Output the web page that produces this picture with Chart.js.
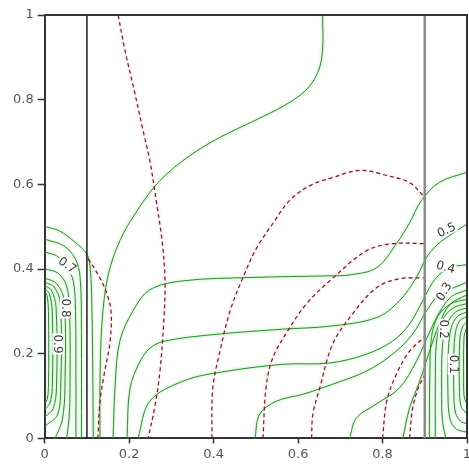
<!DOCTYPE html>
<html>
<head>
<meta charset="utf-8">
<script src="https://cdn.jsdelivr.net/npm/chart.js@4.4.1/dist/chart.umd.min.js"></script>
<style>
  html, body { margin: 0; padding: 0; background: #fff; }
  #wrap { width: 469px; height: 466px; }
</style>
</head>
<body>
<div id="wrap"><canvas id="c" width="469" height="466"></canvas></div>
<script>
// ── axes ─────────────────────────────────────────
const xTicks = [0, 0.2, 0.4, 0.6, 0.8, 1];
const yTicks = [0, 0.2, 0.4, 0.6, 0.8, 1];

// partition walls
const wallLeft = 0.1;
const wallRight = 0.9;

// ── isotherms (solid green) ───────────────────────
const isoTop = [[0.658,1],[0.658,0.917],[0.647,0.865],[0.618,0.822],[0.569,0.787],[0.498,0.751],[0.415,0.711],[0.344,0.668],[0.273,0.609],[0.219,0.538],[0.178,0.467],[0.150,0.384],[0.136,0.277],[0.131,0.135],[0.131,0]];
const iso06 = [[0.162,0],[0.167,0.128],[0.178,0.230],[0.209,0.301],[0.249,0.351],[0.327,0.372],[0.486,0.380],[0.675,0.384],[0.722,0.386],[0.786,0.403],[0.833,0.460],[0.864,0.509],[0.892,0.562],[0.935,0.605],[0.998,0.628]];
const iso05 = [[0.195,0],[0.202,0.118],[0.226,0.182],[0.249,0.213],[0.285,0.230],[0.408,0.246],[0.564,0.258],[0.675,0.265],[0.785,0.285],[0.840,0.325],[0.880,0.380],[0.904,0.427],[0.930,0.458],[0.960,0.480],[0.998,0.505]];
const iso04 = [[0.221,0],[0.249,0.088],[0.327,0.135],[0.408,0.155],[0.564,0.175],[0.675,0.178],[0.762,0.199],[0.824,0.230],[0.864,0.270],[0.895,0.325],[0.918,0.367],[0.940,0.392],[0.965,0.405],[0.998,0.410]];
const iso03 = [[0.498,0],[0.509,0.057],[0.549,0.088],[0.611,0.104],[0.682,0.128],[0.762,0.159],[0.824,0.199],[0.871,0.246],[0.904,0.301],[0.935,0.341],[0.974,0.358],[0.998,0.368]];
const iso02 = [[0.722,0],[0.738,0.048],[0.785,0.081],[0.840,0.119],[0.880,0.182],[0.911,0.250],[0.935,0.298],[0.963,0.335],[0.998,0.350]];
const iso01 = [[0.848,0],[0.864,0.072],[0.888,0.135],[0.911,0.205],[0.935,0.272],[0.959,0.316],[0.998,0.338]];

// cold wall (right)
const coldA = [[0.998,0.328],[0.962,0.318],[0.932,0.290],[0.916,0.240],[0.912,0.150],[0.911,0.060],[0.911,0]];
const coldB = [[0.998,0.318],[0.967,0.308],[0.942,0.280],[0.928,0.230],[0.925,0.120],[0.925,0]];
const coldC = [[0.998,0.308],[0.972,0.298],[0.953,0.270],[0.942,0.220],[0.940,0.110],[0.942,0.040],[0.950,0]];
const coldD = [[0.998,0.298],[0.977,0.288],[0.963,0.262],[0.956,0.210],[0.955,0.100],[0.960,0.045],[0.975,0.022],[0.998,0.015]];
const coldE = [[0.998,0.287],[0.983,0.278],[0.973,0.252],[0.969,0.200],[0.969,0.100],[0.973,0.060],[0.985,0.040],[0.998,0.035]];
const coldF = [[0.998,0.274],[0.990,0.265],[0.983,0.235],[0.982,0.120],[0.986,0.075],[0.998,0.060]];
const coldG = [[0.998,0.258],[0.993,0.240],[0.992,0.140],[0.993,0.100],[0.998,0.085]];

// hot wall (left)
const hotA = [[0.002,0.345],[0.006,0.336],[0.009,0.300],[0.009,0.120],[0.006,0.092],[0.002,0.085]];
const hotB = [[0.002,0.352],[0.011,0.342],[0.018,0.300],[0.018,0.120],[0.012,0.082],[0.002,0.070]];
const hotC = [[0.002,0.360],[0.016,0.350],[0.027,0.310],[0.028,0.120],[0.020,0.070],[0.002,0.052]];
const hotD = [[0.002,0.368],[0.022,0.358],[0.037,0.320],[0.038,0.120],[0.030,0.055],[0.002,0.030]];
const hotE = [[0.002,0.378],[0.028,0.366],[0.046,0.325],[0.048,0.120],[0.042,0.045],[0.030,0.012],[0.024,0]];
const hotF = [[0.002,0.400],[0.032,0.390],[0.052,0.360],[0.059,0.300],[0.060,0.120],[0.058,0.050],[0.052,0]];
const hotG = [[0.002,0.440],[0.030,0.430],[0.053,0.405],[0.068,0.370],[0.073,0.300],[0.074,0.150],[0.074,0]];
const hotH = [[0.002,0.470],[0.045,0.455],[0.072,0.425],[0.084,0.380],[0.087,0.250],[0.087,0]];
const hotI = [[0.002,0.500],[0.035,0.490],[0.070,0.465],[0.100,0.435],[0.108,0.400],[0.112,0.300],[0.114,0.150],[0.115,0]];

// ── streamlines (dashed red) ──────────────────────
const streamA = [[0.174,1],[0.190,0.917],[0.212,0.822],[0.233,0.727],[0.249,0.656],[0.264,0.562],[0.278,0.467],[0.285,0.372],[0.282,0.277],[0.273,0.159],[0.261,0.076],[0.245,0]];
const streamB = [[0.103,0.424],[0.124,0.391],[0.145,0.348],[0.157,0.301],[0.155,0.230],[0.141,0.152],[0.131,0.088],[0.126,0]];
const streamC = [[0.396,0],[0.398,0.118],[0.415,0.206],[0.439,0.301],[0.469,0.379],[0.502,0.450],[0.540,0.507],[0.580,0.562],[0.628,0.597],[0.682,0.616],[0.746,0.633],[0.810,0.621],[0.864,0.604],[0.900,0.569]];
const streamD = [[0.517,0],[0.524,0.118],[0.540,0.190],[0.580,0.261],[0.620,0.318],[0.675,0.372],[0.762,0.443],[0.824,0.460],[0.900,0.460]];
const streamE = [[0.632,0],[0.635,0.057],[0.651,0.118],[0.682,0.223],[0.729,0.294],[0.786,0.356],[0.840,0.377],[0.900,0.379]];
const streamF = [[0.800,0],[0.810,0.088],[0.833,0.152],[0.864,0.206],[0.900,0.240]];
const streamG = [[0.864,0],[0.871,0.070],[0.885,0.120],[0.900,0.150]];

// contour labels
const labelText = ['0.7', '0.8', '0.9', '0.5', '0.4', '0.3', '0.2', '0.1'];
const labelX    = [0.053, 0.048, 0.030, 0.952, 0.949, 0.947, 0.944, 0.966];
const labelY    = [0.408, 0.308, 0.223, 0.491, 0.403, 0.346, 0.258, 0.175];
const labelRot  = [35, 90, 90, -25, 15, -60, 90, 90];

const isoLines = [isoTop, iso06, iso05, iso04, iso03, iso02, iso01,
                  coldA, coldB, coldC, coldD, coldE, coldF, coldG,
                  hotA, hotB, hotC, hotD, hotE, hotF, hotG, hotH, hotI];
const streamLines = [streamA, streamB, streamC, streamD, streamE, streamF, streamG];

const pts = a => a.map(([x, y]) => ({ x, y }));
const fmtTick = v => String(Math.round(v * 10) / 10);

const datasets = [
    { data: pts([[wallLeft, 0], [wallLeft, 1]]),  borderColor: '#1c1c1c', borderWidth: 1.5 },
    { data: pts([[wallRight, 0], [wallRight, 1]]), borderColor: '#8a8a8a', borderWidth: 2.5 },
];
streamLines.forEach(s => datasets.push({
    data: pts(s), borderColor: '#7a1828', borderWidth: 1.2, borderDash: [4, 3],
    tension: 0.35, glow: 'rgba(255,130,150,0.6)',
}));
isoLines.forEach(s => datasets.push({
    data: pts(s), borderColor: '#2d8a2d', borderWidth: 1,
    tension: 0.35, glow: 'rgba(90,220,90,0.8)',
}));
datasets.forEach(d => { d.showLine = true; d.pointRadius = 0; d.fill = false; });

// glow under each curve, contour labels and the closing frame
const contourDecor = {
    id: 'contourDecor',
    beforeDatasetDraw(chart, args) {
        const ds = chart.data.datasets[args.index];
        chart.ctx.save();
        if (ds.glow) { chart.ctx.shadowColor = ds.glow; chart.ctx.shadowBlur = 3; }
    },
    afterDatasetDraw(chart) { chart.ctx.restore(); },
    afterDatasetsDraw(chart) {
        const { ctx, chartArea: a, scales: { x, y } } = chart;
        ctx.save();
        ctx.font = '12px "DejaVu Sans"';
        ctx.textAlign = 'center';
        ctx.textBaseline = 'middle';
        labelText.forEach((t, i) => {
            ctx.save();
            ctx.translate(x.getPixelForValue(labelX[i]), y.getPixelForValue(labelY[i]));
            ctx.rotate(labelRot[i] * Math.PI / 180);
            const w = ctx.measureText(t).width;
            ctx.fillStyle = '#fff';
            ctx.fillRect(-w / 2 - 1, -5, w + 2, 10);
            ctx.fillStyle = '#3a3a3a';
            ctx.fillText(t, 0, 0);
            ctx.restore();
        });
        ctx.strokeStyle = '#333';
        ctx.lineWidth = 2;
        ctx.beginPath();
        ctx.moveTo(a.left, a.top);
        ctx.lineTo(a.right, a.top);
        ctx.lineTo(a.right, a.bottom);
        ctx.stroke();
        ctx.restore();
    }
};

Chart.defaults.font.family = '"DejaVu Sans", sans-serif';

new Chart(document.getElementById('c'), {
    type: 'scatter',
    data: { datasets },
    options: {
        responsive: false,
        animation: false,
        layout: { padding: { top: 15, right: 2, left: 9, bottom: 1 } },
        plugins: { legend: { display: false }, tooltip: { enabled: false } },
        scales: {
            x: {
                type: 'linear', min: 0, max: 1,
                afterBuildTicks: s => { s.ticks = xTicks.map(v => ({ value: v })); },
                afterFit: s => { s.paddingRight = 0; },
                ticks: { color: '#555', font: { size: 13 }, padding: 3, maxRotation: 0, callback: fmtTick },
                grid: { drawOnChartArea: false, tickLength: 5, color: '#333', tickWidth: 1.5 },
                border: { color: '#333', width: 2 },
            },
            y: {
                type: 'linear', min: 0, max: 1,
                afterBuildTicks: s => { s.ticks = yTicks.map(v => ({ value: v })); },
                ticks: { color: '#555', font: { size: 13 }, padding: 4, callback: fmtTick },
                grid: { drawOnChartArea: false, tickLength: 7, color: '#333', tickWidth: 1.5 },
                border: { color: '#333', width: 2 },
            }
        }
    },
    plugins: [contourDecor]
});
</script>
</body>
</html>
